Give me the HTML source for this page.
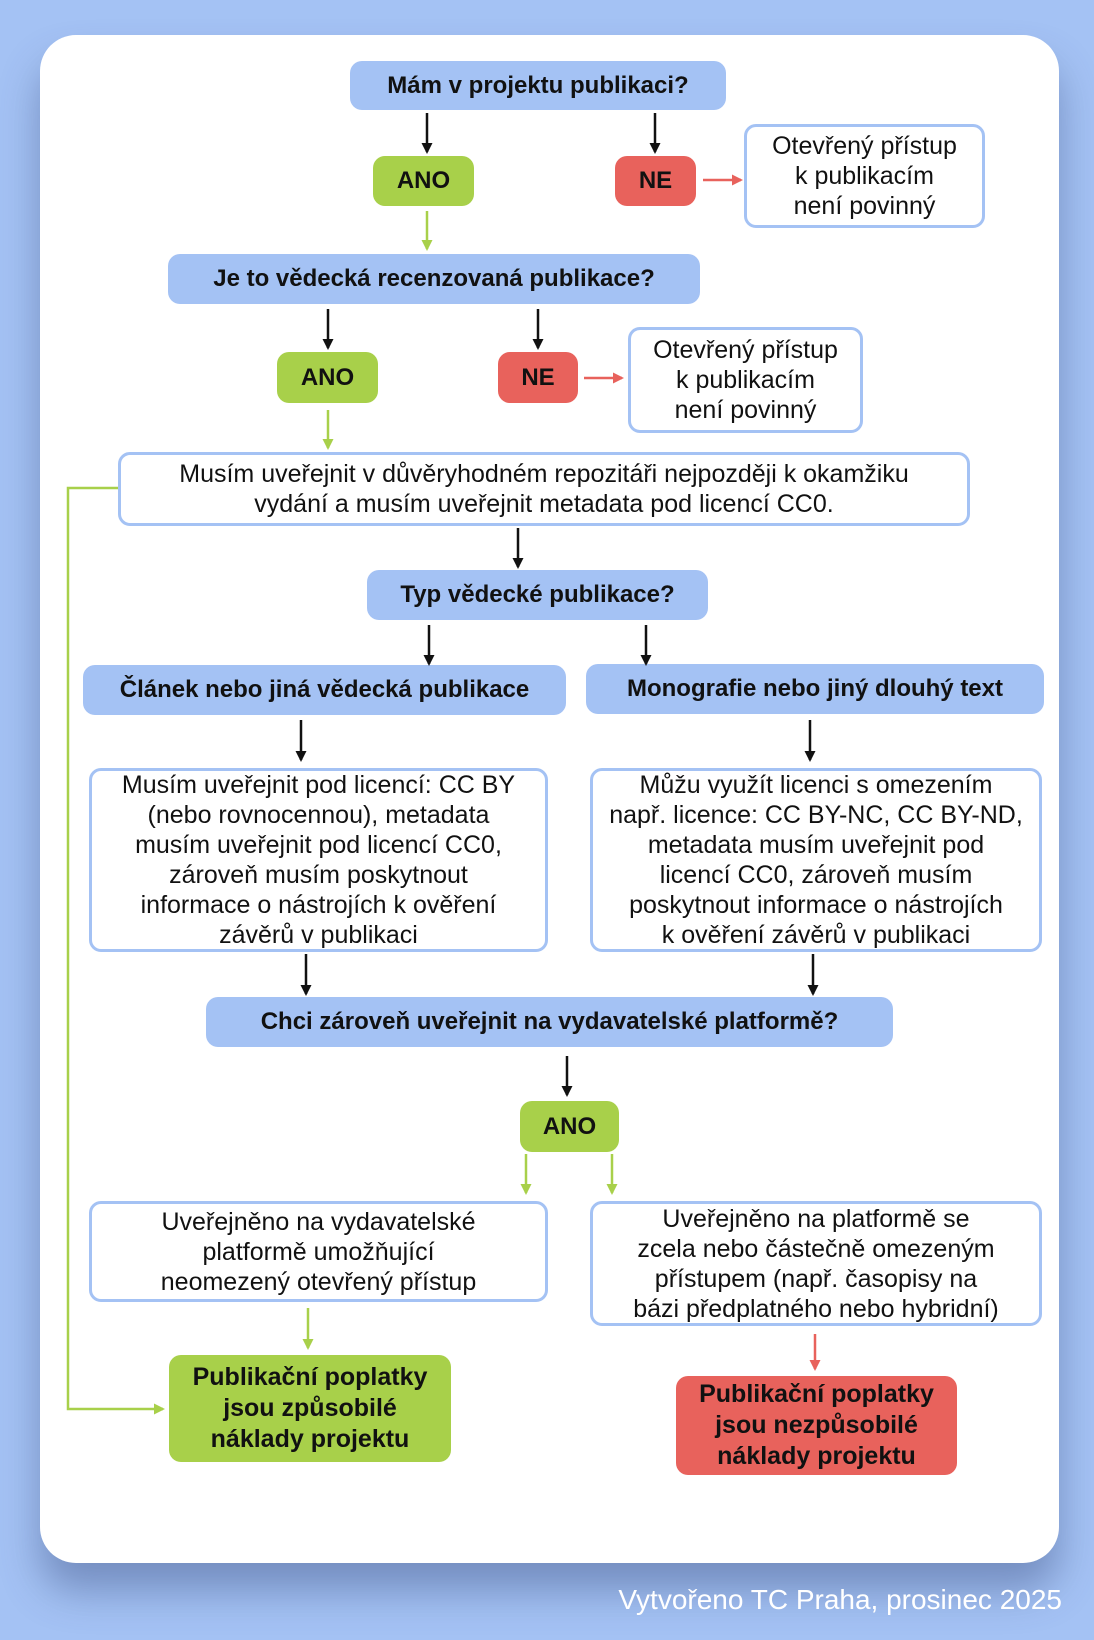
<!DOCTYPE html>
<html><head><meta charset="utf-8"><style>
html,body{margin:0;padding:0}
body{width:1094px;height:1640px;background:#a4c2f4;position:relative;overflow:hidden;font-family:"Liberation Sans Narrow","Liberation Sans",sans-serif}
.card{position:absolute;left:40px;top:35px;width:1019px;height:1528px;background:#fff;border-radius:36px;box-shadow:0 28px 40px rgba(60,80,130,.45)}
.b{position:absolute;display:flex;align-items:center;justify-content:center;text-align:center;box-sizing:border-box;border-radius:12px;color:#111;line-height:30px}
.q{background:#a4c2f4;font-weight:bold;font-size:24px}
.g{background:#a8d04a;font-weight:bold;font-size:24px}
.r{background:#e8625c;font-weight:bold;font-size:24px}
.w{background:#fff;border:3px solid #a4c2f4;font-size:25px}
.foot{position:absolute;right:32px;top:1584px;color:#fff;font-size:28px}
svg{position:absolute;left:0;top:0}
</style></head><body>
<div class="card"></div>
<div class="b q" style="left:350px;top:61px;width:376px;height:49px">Mám v projektu publikaci?</div>
<div class="b g" style="left:373px;top:156px;width:101px;height:50px">ANO</div>
<div class="b r" style="left:615px;top:156px;width:81px;height:50px">NE</div>
<div class="b w" style="left:744px;top:124px;width:241px;height:104px">Otevřený přístup<br>k publikacím<br>není povinný</div>
<div class="b q" style="left:168px;top:254px;width:532px;height:50px">Je to vědecká recenzovaná publikace?</div>
<div class="b g" style="left:277px;top:352px;width:101px;height:51px">ANO</div>
<div class="b r" style="left:498px;top:352px;width:80px;height:51px">NE</div>
<div class="b w" style="left:628px;top:327px;width:235px;height:106px">Otevřený přístup<br>k publikacím<br>není povinný</div>
<div class="b w" style="left:118px;top:452px;width:852px;height:74px">Musím uveřejnit v důvěryhodném repozitáři nejpozději k okamžiku<br>vydání a musím uveřejnit metadata pod licencí CC0.</div>
<div class="b q" style="left:367px;top:570px;width:341px;height:50px">Typ vědecké publikace?</div>
<div class="b q" style="left:83px;top:665px;width:483px;height:50px">Článek nebo jiná vědecká publikace</div>
<div class="b q" style="left:586px;top:664px;width:458px;height:50px">Monografie nebo jiný dlouhý text</div>
<div class="b w" style="left:89px;top:768px;width:459px;height:184px">Musím uveřejnit pod licencí: CC BY<br>(nebo rovnocennou), metadata<br>musím uveřejnit pod licencí CC0,<br>zároveň musím poskytnout<br>informace o nástrojích k ověření<br>závěrů v publikaci</div>
<div class="b w" style="left:590px;top:768px;width:452px;height:184px">Můžu využít licenci s omezením<br>např. licence: CC BY-NC, CC BY-ND,<br>metadata musím uveřejnit pod<br>licencí CC0, zároveň musím<br>poskytnout informace o nástrojích<br>k ověření závěrů v publikaci</div>
<div class="b q" style="left:206px;top:997px;width:687px;height:50px">Chci zároveň uveřejnit na vydavatelské platformě?</div>
<div class="b g" style="left:520px;top:1101px;width:99px;height:51px">ANO</div>
<div class="b w" style="left:89px;top:1201px;width:459px;height:101px">Uveřejněno na vydavatelské<br>platformě umožňující<br>neomezený otevřený přístup</div>
<div class="b w" style="left:590px;top:1201px;width:452px;height:125px">Uveřejněno na platformě se<br>zcela nebo částečně omezeným<br>přístupem (např. časopisy na<br>bázi předplatného nebo hybridní)</div>
<div class="b g" style="left:169px;top:1355px;width:282px;height:107px;font-size:25px;line-height:31px">Publikační poplatky<br>jsou způsobilé<br>náklady projektu</div>
<div class="b r" style="left:676px;top:1376px;width:281px;height:99px;font-size:25px;line-height:31px">Publikační poplatky<br>jsou nezpůsobilé<br>náklady projektu</div>
<div class="foot">Vytvořeno TC Praha, prosinec 2025</div>
<svg width="1094" height="1640">
<defs>
<marker id="k" markerWidth="11" markerHeight="11" refX="9" refY="5.5" orient="auto" markerUnits="userSpaceOnUse"><path d="M0,0 L11,5.5 L0,11z" fill="#111"/></marker>
<marker id="gm" markerWidth="11" markerHeight="11" refX="9" refY="5.5" orient="auto" markerUnits="userSpaceOnUse"><path d="M0,0 L11,5.5 L0,11z" fill="#a8d04a"/></marker>
<marker id="rm" markerWidth="11" markerHeight="11" refX="9" refY="5.5" orient="auto" markerUnits="userSpaceOnUse"><path d="M0,0 L11,5.5 L0,11z" fill="#e8625c"/></marker>
</defs>
<g stroke="#111" stroke-width="2.5" fill="none" marker-end="url(#k)">
<line x1="427" y1="113" x2="427" y2="152"/><line x1="655" y1="113" x2="655" y2="152"/>
<line x1="328" y1="309" x2="328" y2="348"/><line x1="538" y1="309" x2="538" y2="348"/>
<line x1="518" y1="528" x2="518" y2="567"/>
<line x1="429" y1="625" x2="429" y2="664"/><line x1="646" y1="625" x2="646" y2="664"/>
<line x1="301" y1="720" x2="301" y2="760"/><line x1="810" y1="720" x2="810" y2="760"/>
<line x1="306" y1="954" x2="306" y2="994"/><line x1="813" y1="954" x2="813" y2="994"/>
<line x1="567" y1="1056" x2="567" y2="1095"/>
</g>
<g stroke="#a8d04a" stroke-width="2.5" fill="none">
<line x1="427" y1="211" x2="427" y2="249" marker-end="url(#gm)"/>
<line x1="328" y1="410" x2="328" y2="448" marker-end="url(#gm)"/>
<line x1="526" y1="1154" x2="526" y2="1193" marker-end="url(#gm)"/>
<line x1="612" y1="1154" x2="612" y2="1193" marker-end="url(#gm)"/>
<line x1="308" y1="1308" x2="308" y2="1348" marker-end="url(#gm)"/>
<polyline points="118,488 68,488 68,1409 163,1409" marker-end="url(#gm)"/>
</g>
<g stroke="#e8625c" stroke-width="2.5" fill="none" marker-end="url(#rm)">
<line x1="703" y1="180" x2="741" y2="180"/>
<line x1="584" y1="378" x2="622" y2="378"/>
<line x1="815" y1="1334" x2="815" y2="1369"/>
</g>
</svg>
</body></html>
